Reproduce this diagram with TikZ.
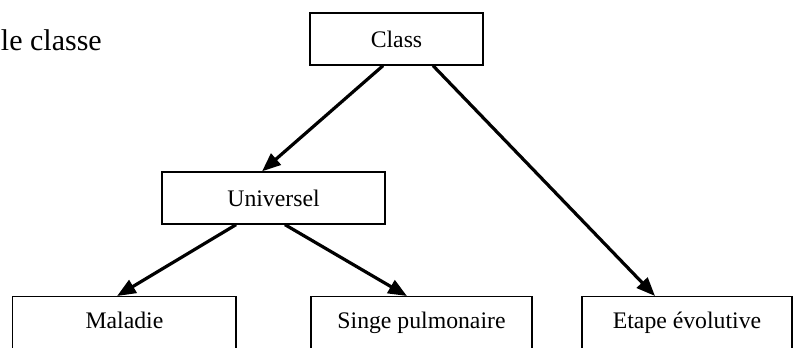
\documentclass[tikz,border=0pt]{standalone}
\usepackage{fontspec}
\setmainfont{Liberation Serif}
\usetikzlibrary{arrows.meta}
\tikzset{classbox/.style={draw=black, line width=1pt, minimum height=39pt, inner sep=0pt, font=\fontsize{17.8}{20}\selectfont},
  leafbox/.style={classbox, anchor=north, minimum height=48pt, text depth=12pt},
  link/.style={black, line width=2.4pt, -{Triangle[length=14pt,width=11pt]}}}

\begin{document}
\begin{tikzpicture}[x=0.75pt,y=-0.75pt]
\useasboundingbox (0,0) rectangle (794,347);
\clip (0,0) rectangle (794,347);
\node[anchor=base east, inner sep=0, font=\fontsize{22.5}{26}\selectfont] (title) at (102,50) {le classe};
% boxes
\node[classbox, minimum width=129.75pt] (cls) at (396.5,39) {Class};
\node[classbox, minimum width=167.25pt] (univ) at (273.5,198) {Universel};
\node[leafbox, minimum width=167.6pt] (mal) at (124.4,296) {Maladie};
\node[leafbox, minimum width=165.75pt] (sing) at (421.5,296) {Singe pulmonaire};
\node[leafbox, minimum width=157.5pt] (etape) at (687,296) {Etape évolutive};
% links
\draw[link] ([xshift=-10.1pt]cls.south) -- ([xshift=-8.6pt]univ.north);
\draw[link] ([xshift=27.4pt]cls.south) -- ([xshift=-24pt]etape.north);
\draw[link] ([xshift=-28.1pt]univ.south) -- ([xshift=-5.5pt]mal.north);
\draw[link] ([xshift=8.6pt]univ.south) -- ([xshift=-10.9pt]sing.north);
\end{tikzpicture}
\end{document}
